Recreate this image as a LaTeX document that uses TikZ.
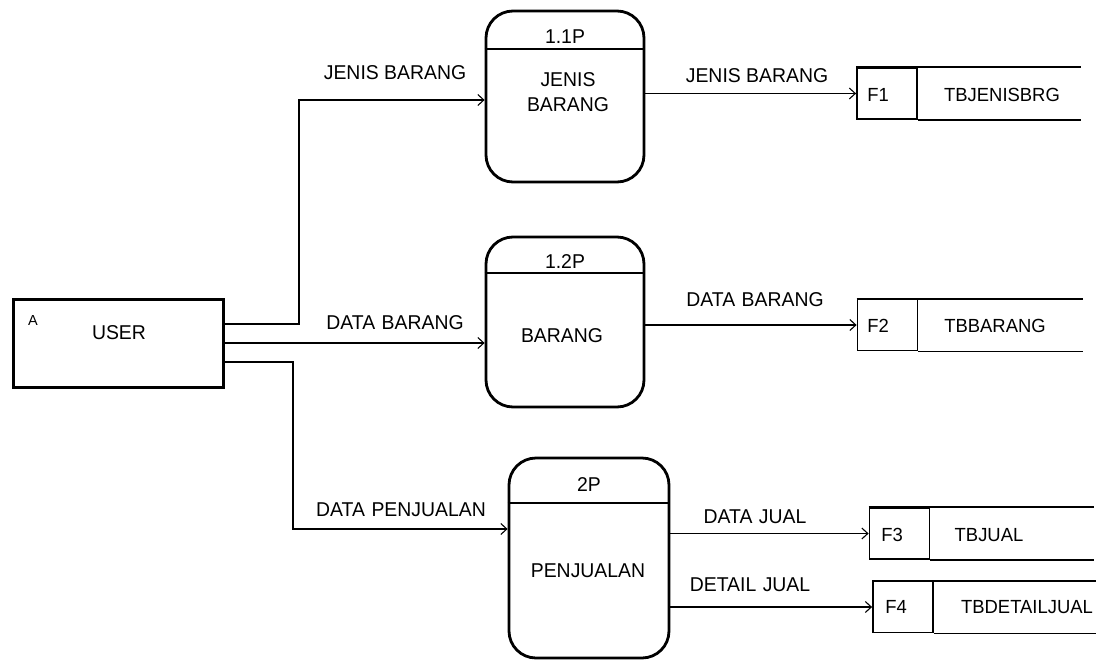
\documentclass[tikz,border=0pt]{standalone}
\usepackage{fontspec}
\setmainfont{Liberation Sans}
\usetikzlibrary{arrows.meta}
\begin{document}
\begin{tikzpicture}[x=1pt,y=-1pt,
  ent/.style={draw, line width=3pt, minimum width=210pt, minimum height=88pt, inner sep=0pt},
  proc/.style={draw, line width=2.8pt, rounded corners=27pt, inner sep=0pt},
  sbox/.style={draw, line width=1.8pt, inner sep=0pt, minimum width=60pt, minimum height=51pt},
  sline/.style={line width=1.8pt},
  hdr/.style={line width=2.8pt},
  flow/.style={line width=1.1pt, -{Straight Barb[length=6pt,width=11pt]}},
  lbl/.style={font=\fontsize{20}{25}\selectfont, inner sep=0pt, align=center, xscale=0.97},
  slbl/.style={font=\fontsize{19}{22}\selectfont, inner sep=0pt, xscale=0.97},
  tiny/.style={font=\fontsize{14.5}{16}\selectfont, inner sep=0pt}]
\useasboundingbox[fill=white] (0,0) rectangle (1104,662);

% external entity
\node[ent] (user) at (118,343) {};
\node[tiny] (userid) at (33,321) {A};
\node[lbl] (username) at (119,333) {USER};

% processes
\node[proc, minimum width=158pt, minimum height=171pt] (p11) at (565,96.5) {};
\draw[hdr] (p11.west |- 0,49) -- (p11.east |- 0,49);
\node[lbl] (p11id) at (565,37) {1.1P};
\node[lbl] (p11name) at (568,92) {JENIS\\BARANG};

\node[proc, minimum width=158pt, minimum height=170pt] (p12) at (565,322) {};
\draw[hdr] (p12.west |- 0,273) -- (p12.east |- 0,273);
\node[lbl] (p12id) at (565,262) {1.2P};
\node[lbl] (p12name) at (562,336) {BARANG};

\node[proc, minimum width=160pt, minimum height=200pt] (p2) at (589,558) {};
\draw[hdr] (p2.west |- 0,503) -- (p2.east |- 0,503);
\node[lbl] (p2id) at (589,485) {2P};
\node[lbl] (p2name) at (588,571) {PENJUALAN};

% data stores
\node[sbox] (f1) at (887,93.5) {};
\coordinate (f1end) at (1081,0);
\draw[sline] (f1.north west) -- (f1end |- f1.north);
\draw[sline] (f1.south east) -- (f1end |- f1.south);
\node[slbl] (f1id) at (878,95) {F1};
\node[slbl] (f1name) at (1002,95) {TBJENISBRG};

\node[sbox] (f2) at (887.5,325) {};
\coordinate (f2end) at (1083,0);
\draw[sline] (f2.north west) -- (f2end |- f2.north);
\draw[sline] (f2.south east) -- (f2end |- f2.south);
\node[slbl] (f2id) at (878,326) {F2};
\node[slbl] (f2name) at (995,326) {TBBARANG};

\node[sbox] (f3) at (899.5,533.5) {};
\coordinate (f3end) at (1094,0);
\draw[sline] (f3.north west) -- (f3end |- f3.north);
\draw[sline] (f3.south east) -- (f3end |- f3.south);
\node[slbl] (f3id) at (892,535) {F3};
\node[slbl] (f3name) at (989,535) {TBJUAL};

\node[sbox] (f4) at (903,607) {};
\coordinate (f4end) at (1096,0);
\draw[sline] (f4.north west) -- (f4end |- f4.north);
\draw[sline] (f4.south east) -- (f4end |- f4.south);
\node[slbl] (f4id) at (896,607) {F4};
\node[slbl] (f4name) at (1027,607) {TBDETAILJUAL};

% flows from the entity
\draw[flow] (user.east |- 0,324) -- (299,324) |- (p11.west |- 0,100);
\node[lbl] (fl1) at (395,73) {JENIS BARANG};
\draw[flow] (user.east |- 0,343) -- (p12.west |- 0,343);
\node[lbl] (fl2) at (395,323) {DATA\,\,BARANG};
\draw[flow] (user.east |- 0,362) -| (293,529) -- (p2.west |- 0,529);
\node[lbl] (fl3) at (401,510) {DATA\,\,PENJUALAN};

% flows into the stores
\draw[flow] (p11.east |- f1) -- (f1);
\node[lbl] (fl4) at (757,76) {JENIS BARANG};
\draw[flow] (p12.east |- f2) -- (f2);
\node[lbl] (fl5) at (755,300) {DATA\,\,BARANG};
\draw[flow] (p2.east |- f3) -- (f3);
\node[lbl] (fl6) at (755,517) {DATA\,\,JUAL};
\draw[flow] (p2.east |- f4) -- (f4);
\node[lbl] (fl7) at (750,585) {DETAIL\,\,JUAL};
\end{tikzpicture}
\end{document}
